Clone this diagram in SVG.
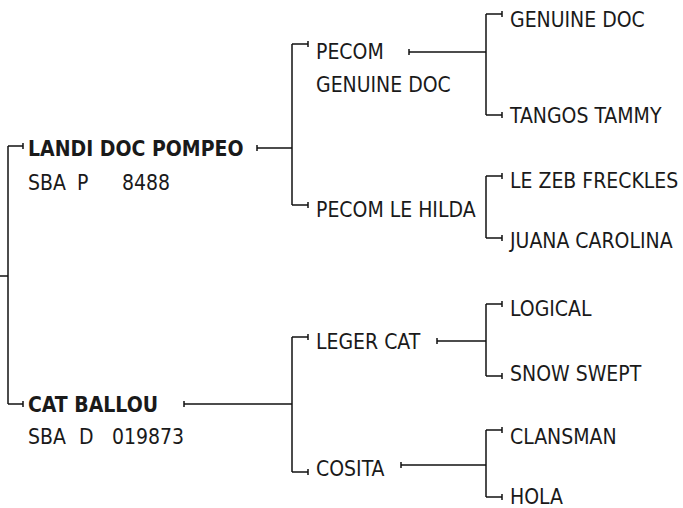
<svg xmlns="http://www.w3.org/2000/svg" width="683" height="508" viewBox="0 0 683 508">
<defs>
<marker id="tick" markerUnits="userSpaceOnUse" markerWidth="4" markerHeight="10" refX="2" refY="5" orient="0" viewBox="0 0 4 10">
<line x1="2" y1="2" x2="2" y2="8" stroke="#111" stroke-width="1.5"/>
</marker>
</defs>
<style>
.c{fill:none;stroke:#111;stroke-width:1.5}
.b{marker-end:url(#tick)}
.s{marker-start:url(#tick)}
text{font-family:"DejaVu Sans Condensed","Liberation Sans Narrow","Liberation Sans",sans-serif;font-size:21px;fill:#1a1a1a}
.bold{font-weight:bold}
</style>
<rect width="683" height="508" fill="#fff"/>
<g id="connectors">
<path class="c" d="M0 276H8"/>
<path class="c" d="M8 276V146"/>
<path class="c b" d="M8 146H23"/>
<path class="c" d="M8 276V404"/>
<path class="c b" d="M8 404H23"/>
<path class="c s" d="M257 148H292"/>
<path class="c s" d="M184 404H292"/>
<path class="c" d="M292 44V205"/>
<path class="c b" d="M292 44H308"/>
<path class="c b" d="M292 205H308"/>
<path class="c" d="M292 337V472"/>
<path class="c b" d="M292 337H308"/>
<path class="c b" d="M292 472H308"/>
<path class="c s" d="M409 52H486"/>
<path class="c s" d="M437 341H486"/>
<path class="c s" d="M401 465H486"/>
<path class="c" d="M486 14V115"/>
<path class="c b" d="M486 14H502"/>
<path class="c b" d="M486 115H502"/>
<path class="c" d="M486 176V238"/>
<path class="c b" d="M486 176H502"/>
<path class="c b" d="M486 238H502"/>
<path class="c" d="M486 304V376"/>
<path class="c b" d="M486 304H502"/>
<path class="c b" d="M486 376H502"/>
<path class="c" d="M486 430V497"/>
<path class="c b" d="M486 430H502"/>
<path class="c b" d="M486 497H502"/>
</g>
<g id="n-landi"><text class="bold" x="28" y="156">LANDI DOC POMPEO</text><text x="28" y="190">SBA<tspan x="77">P</tspan><tspan x="122">8488</tspan></text></g>
<g id="n-catballou"><text class="bold" x="28" y="412">CAT BALLOU</text><text x="28" y="444">SBA<tspan x="79">D</tspan><tspan x="112">019873</tspan></text></g>
<g id="n-pecom"><text x="316" y="59">PECOM</text><text x="316" y="92">GENUINE DOC</text></g>
<g id="n-pecomlehilda"><text x="316" y="217">PECOM LE HILDA</text></g>
<g id="n-legercat"><text x="316" y="349">LEGER CAT</text></g>
<g id="n-cosita"><text x="316" y="476">COSITA</text></g>
<g id="n-genuinedoc"><text x="510" y="27">GENUINE DOC</text></g>
<g id="n-tangostammy"><text x="510" y="123">TANGOS TAMMY</text></g>
<g id="n-lezeb"><text x="510" y="188">LE ZEB FRECKLES</text></g>
<g id="n-juana"><text x="510" y="248">JUANA CAROLINA</text></g>
<g id="n-logical"><text x="510" y="316">LOGICAL</text></g>
<g id="n-snowswept"><text x="510" y="381">SNOW SWEPT</text></g>
<g id="n-clansman"><text x="510" y="444">CLANSMAN</text></g>
<g id="n-hola"><text x="510" y="504">HOLA</text></g>
</svg>
